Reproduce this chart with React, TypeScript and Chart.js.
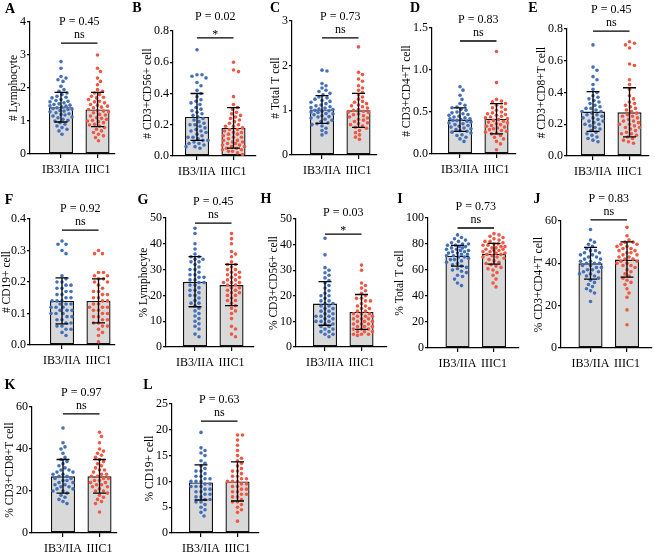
import React, { useEffect, useRef } from "react";
import { Chart, registerables } from "chart.js";
Chart.register(...registerables);

const groups = ["IB3/IIA", "IIIC1"];

// ---- Panel A: # Lymphocyte
const aIB = [2.8, 2.6, 2.35, 2.3, 2.25, 2.2, 2.05, 1.95, 1.9, 1.85, 1.8, 1.75, 1.72, 1.7, 1.65, 1.62, 1.6, 1.58, 1.55, 1.52, 1.5, 1.48, 1.46, 1.45, 1.42, 1.4, 1.38, 1.36, 1.35, 1.32, 1.3, 1.28, 1.25, 1.22, 1.2, 1.18, 1.15, 1.12, 1.1, 1.05, 1.02, 1.0, 0.95, 0.9, 0.85, 0.8, 0.75, 0.7, 0.6];
const aIII = [3.0, 2.6, 2.5, 2.3, 2.2, 2.1, 1.95, 1.9, 1.85, 1.8, 1.75, 1.72, 1.7, 1.65, 1.6, 1.58, 1.55, 1.5, 1.48, 1.45, 1.42, 1.4, 1.35, 1.32, 1.3, 1.28, 1.25, 1.2, 1.18, 1.15, 1.1, 1.08, 1.05, 1.02, 1.0, 0.98, 0.95, 0.9, 0.88, 0.85, 0.8, 0.75, 0.7, 0.65, 0.6, 0.55, 0.5, 0.4];
const aMean = [1.42, 1.35];
const aSd = [0.45, 0.52];

// ---- Panel B: # CD3+CD56+ cell
const bIB = [0.68, 0.52, 0.52, 0.51, 0.5, 0.47, 0.45, 0.42, 0.4, 0.38, 0.36, 0.35, 0.34, 0.33, 0.31, 0.3, 0.29, 0.28, 0.27, 0.26, 0.25, 0.24, 0.23, 0.22, 0.21, 0.2, 0.2, 0.19, 0.18, 0.17, 0.16, 0.16, 0.15, 0.14, 0.13, 0.12, 0.12, 0.11, 0.1, 0.1, 0.09, 0.08, 0.08, 0.07, 0.06, 0.06, 0.05];
const bIII = [0.6, 0.55, 0.54, 0.38, 0.33, 0.31, 0.3, 0.28, 0.27, 0.26, 0.25, 0.24, 0.23, 0.22, 0.21, 0.2, 0.19, 0.19, 0.18, 0.17, 0.17, 0.16, 0.15, 0.15, 0.14, 0.14, 0.13, 0.12, 0.12, 0.11, 0.1, 0.1, 0.09, 0.09, 0.08, 0.08, 0.07, 0.07, 0.06, 0.06, 0.05, 0.05, 0.04, 0.04, 0.03, 0.03, 0.02, 0.01];
const bMean = [0.25, 0.18];
const bSd = [0.15, 0.13];

// ---- Panel C: # Total T cell
const cIB = [1.9, 1.88, 1.6, 1.55, 1.5, 1.45, 1.42, 1.38, 1.35, 1.3, 1.28, 1.25, 1.22, 1.2, 1.18, 1.15, 1.12, 1.1, 1.08, 1.06, 1.05, 1.03, 1.02, 1.0, 0.99, 0.98, 0.96, 0.95, 0.93, 0.92, 0.9, 0.88, 0.86, 0.85, 0.83, 0.8, 0.78, 0.75, 0.72, 0.7, 0.68, 0.65, 0.6, 0.55, 0.5, 0.45];
const cIII = [2.42, 1.85, 1.8, 1.7, 1.65, 1.55, 1.5, 1.45, 1.4, 1.35, 1.3, 1.25, 1.2, 1.18, 1.15, 1.12, 1.1, 1.08, 1.05, 1.02, 1.0, 0.98, 0.96, 0.95, 0.92, 0.9, 0.88, 0.85, 0.83, 0.8, 0.78, 0.75, 0.72, 0.7, 0.68, 0.65, 0.62, 0.6, 0.55, 0.5, 0.45, 0.4, 0.35];
const cMean = [1.02, 1.0];
const cSd = [0.31, 0.38];

// ---- Panel D: # CD3+CD4+T cell
const dIB = [0.8, 0.76, 0.7, 0.65, 0.6, 0.58, 0.56, 0.55, 0.53, 0.52, 0.5, 0.49, 0.48, 0.47, 0.46, 0.45, 0.44, 0.43, 0.42, 0.42, 0.41, 0.4, 0.4, 0.39, 0.38, 0.37, 0.36, 0.35, 0.34, 0.33, 0.32, 0.31, 0.3, 0.29, 0.28, 0.27, 0.26, 0.25, 0.23, 0.22, 0.2, 0.18, 0.15];
const dIII = [1.22, 0.85, 0.65, 0.63, 0.62, 0.6, 0.58, 0.56, 0.55, 0.53, 0.52, 0.5, 0.49, 0.48, 0.47, 0.46, 0.45, 0.44, 0.43, 0.42, 0.41, 0.4, 0.39, 0.38, 0.37, 0.36, 0.35, 0.34, 0.33, 0.32, 0.31, 0.3, 0.29, 0.28, 0.27, 0.26, 0.25, 0.24, 0.22, 0.2, 0.18, 0.15, 0.12, 0.05];
const dMean = [0.41, 0.42];
const dSd = [0.14, 0.18];

// ---- Panel E: # CD3+CD8+T cell
const eIB = [0.7, 0.56, 0.54, 0.5, 0.48, 0.45, 0.42, 0.4, 0.38, 0.37, 0.36, 0.35, 0.34, 0.33, 0.32, 0.31, 0.3, 0.3, 0.29, 0.28, 0.28, 0.27, 0.26, 0.26, 0.25, 0.24, 0.24, 0.23, 0.22, 0.22, 0.21, 0.2, 0.2, 0.19, 0.18, 0.17, 0.16, 0.15, 0.14, 0.13, 0.12, 0.11, 0.1, 0.09];
const eIII = [0.72, 0.71, 0.7, 0.68, 0.58, 0.57, 0.48, 0.45, 0.42, 0.38, 0.36, 0.34, 0.33, 0.32, 0.31, 0.3, 0.29, 0.28, 0.27, 0.26, 0.25, 0.25, 0.24, 0.23, 0.22, 0.22, 0.21, 0.2, 0.2, 0.19, 0.18, 0.18, 0.17, 0.16, 0.15, 0.14, 0.14, 0.13, 0.12, 0.11, 0.1, 0.09, 0.08];
const eMean = [0.28, 0.275];
const eSd = [0.125, 0.155];

// ---- Panel F: # CD19+ cell
const fIB = [0.33, 0.32, 0.32, 0.3, 0.29, 0.22, 0.21, 0.2, 0.2, 0.19, 0.19, 0.18, 0.18, 0.17, 0.17, 0.16, 0.16, 0.15, 0.15, 0.14, 0.14, 0.14, 0.13, 0.13, 0.13, 0.12, 0.12, 0.12, 0.11, 0.11, 0.11, 0.1, 0.1, 0.1, 0.09, 0.09, 0.08, 0.08, 0.07, 0.07, 0.06, 0.06, 0.05, 0.05, 0.04, 0.03];
const fIII = [0.3, 0.29, 0.29, 0.23, 0.23, 0.22, 0.22, 0.21, 0.21, 0.2, 0.2, 0.19, 0.18, 0.17, 0.17, 0.16, 0.16, 0.15, 0.15, 0.14, 0.14, 0.13, 0.13, 0.12, 0.12, 0.12, 0.11, 0.11, 0.1, 0.1, 0.09, 0.09, 0.08, 0.08, 0.07, 0.07, 0.06, 0.06, 0.05, 0.04, 0.03, 0.01];
const fMean = [0.14, 0.14];
const fSd = [0.073, 0.07];

// ---- Panel G: % Lymphocyte
const gIB = [46, 44, 40, 38, 36, 35, 35, 34, 34, 33, 33, 32, 31, 30, 30, 29, 28, 28, 27, 27, 26, 26, 25, 25, 24, 24, 23, 22, 22, 21, 20, 20, 19, 18, 17, 17, 16, 15, 14, 13, 12, 11, 10, 9, 8, 7, 5, 4];
const gIII = [44, 42, 40, 37, 36, 35, 33, 32, 32, 31, 30, 30, 29, 29, 28, 28, 27, 27, 26, 26, 25, 25, 25, 24, 24, 23, 23, 22, 22, 21, 21, 20, 20, 19, 18, 18, 17, 16, 15, 14, 13, 11, 8, 7, 5, 4];
const gMean = [25.3, 24.0];
const gSd = [9.7, 8.0];

// ---- Panel H: % CD3+CD56+ cell
const hIB = [42.5, 36, 31, 30, 29, 28, 27, 26, 25, 24, 23, 22, 21, 20, 20, 19, 18, 18, 17, 17, 16, 16, 15, 15, 14, 14, 13, 13, 12, 12, 12, 11, 11, 10, 10, 10, 9, 9, 8, 8, 7, 7, 6, 6, 5, 5, 4];
const hIII = [32, 30, 25, 24, 23, 22, 21, 20, 19, 19, 18, 18, 17, 16, 16, 15, 15, 14, 14, 13, 13, 13, 12, 12, 12, 11, 11, 11, 10, 10, 10, 9, 9, 9, 8, 8, 8, 7, 7, 7, 6, 6, 6, 5, 5, 5, 4.5];
const hMean = [17.0, 13.7];
const hSd = [8.5, 6.8];

// ---- Panel I: % Total T cell
const iIB = [87, 85, 84, 83, 82, 81, 80, 80, 79, 79, 78, 78, 77, 77, 76, 76, 75, 75, 74, 74, 73, 73, 72, 72, 71, 71, 70, 70, 69, 68, 68, 67, 66, 65, 64, 63, 62, 61, 60, 59, 58, 56, 55, 53, 50, 48];
const iIII = [88, 87, 86, 85, 84, 83, 82, 82, 81, 80, 80, 79, 79, 78, 78, 77, 77, 76, 76, 75, 75, 74, 74, 73, 73, 72, 72, 71, 70, 70, 69, 68, 67, 66, 65, 64, 63, 62, 61, 60, 58, 56, 53, 50, 47];
const iMean = [71, 72.5];
const iSd = [8, 8];

// ---- Panel J: % CD3+CD4+T cell
const jIB = [56, 51, 50, 49, 48, 47, 46, 46, 45, 45, 44, 44, 43, 43, 42, 42, 41, 41, 40, 40, 40, 39, 39, 38, 38, 37, 37, 36, 36, 35, 35, 34, 34, 33, 32, 31, 30, 29, 28, 27, 26, 22];
const jIII = [57, 53, 51, 50, 50, 49, 49, 48, 48, 47, 47, 46, 46, 45, 45, 44, 44, 43, 43, 42, 42, 41, 41, 40, 40, 39, 39, 38, 37, 36, 35, 34, 33, 32, 31, 30, 28, 26, 24, 18, 11];
const jMean = [40, 41.8];
const jSd = [7.5, 8.3];

// ---- Panel K: % CD3+CD8+T cell
const kIB = [50, 43, 41, 40, 38, 36, 35, 34, 33, 32, 31, 30, 30, 29, 29, 28, 28, 27, 27, 26, 26, 25, 25, 24, 24, 23, 23, 22, 22, 21, 21, 20, 20, 19, 18, 17, 16, 15, 14];
const kIII = [48, 46, 43, 40, 39, 38, 37, 36, 35, 34, 33, 32, 31, 30, 30, 29, 28, 28, 27, 27, 26, 26, 25, 25, 24, 24, 23, 23, 22, 22, 21, 20, 20, 19, 18, 17, 16, 15, 14, 10];
const kMean = [27, 27];
const kSd = [8, 8];

// ---- Panel L: % CD19+ cell
const lIB = [19.5, 16.5, 16, 15.5, 15, 14, 13.5, 13, 12.5, 12, 12, 11.5, 11, 11, 10.5, 10.5, 10, 10, 10, 9.5, 9.5, 9, 9, 9, 8.5, 8.5, 8, 8, 7.5, 7.5, 7, 7, 6.5, 6.5, 6, 6, 5.5, 5, 4.5, 4, 3.3];
const lIII = [19, 19, 18, 17, 16, 15, 14.5, 14, 13.5, 13, 12.5, 12, 12, 11.5, 11, 11, 10.5, 10.5, 10, 10, 10, 9.5, 9.5, 9, 9, 8.5, 8.5, 8, 8, 7.5, 7.5, 7, 7, 6.5, 6, 6, 5.5, 5, 4.5, 4, 2.3];
const lMean = [9.8, 10.0];
const lSd = [3.4, 3.8];

const pValues = ["0.45", "0.02", "0.73", "0.83", "0.45", "0.92", "0.45", "0.03", "0.73", "0.83", "0.97", "0.63"];
const sigMarks = ["ns", "*", "ns", "ns", "ns", "ns", "ns", "*", "ns", "ns", "ns", "ns"];

type Spec = {
  letter: string; title: string; ib: number[]; iii: number[]; mean: number[]; sd: number[];
  ymax: number; step: number; dec: number; sigY: number;
  axisX: number; yTop: number; yBot: number; o1: number; W: number; lx: number; ly: number;
};

const specs: Spec[] = [
  { letter: "A", title: "# Lymphocyte", ib: aIB, iii: aIII, mean: aMean, sd: aSd, ymax: 4, step: 1, dec: 0, sigY: 3.36, axisX: 30, yTop: 22, yBot: 154, o1: 31, W: 85, lx: 10, ly: 9 },
  { letter: "B", title: "# CD3+CD56+ cell", ib: bIB, iii: bIII, mean: bMean, sd: bSd, ymax: 0.8, step: 0.2, dec: 1, sigY: 0.756, axisX: 173, yTop: 31, yBot: 156, o1: 24, W: 83, lx: 137, ly: 8 },
  { letter: "C", title: "# Total T cell", ib: cIB, iii: cIII, mean: cMean, sd: cSd, ymax: 3, step: 1, dec: 0, sigY: 2.62, axisX: 292, yTop: 21, yBot: 155, o1: 30, W: 85, lx: 275, ly: 8 },
  { letter: "D", title: "# CD3+CD4+T cell", ib: dIB, iii: dIII, mean: dMean, sd: dSd, ymax: 1.5, step: 0.5, dec: 1, sigY: 1.345, axisX: 432, yTop: 28, yBot: 154, o1: 28, W: 84, lx: 415, ly: 8 },
  { letter: "E", title: "# CD3+CD8+T cell", ib: eIB, iii: eIII, mean: eMean, sd: eSd, ymax: 0.8, step: 0.2, dec: 1, sigY: 0.787, axisX: 567, yTop: 29, yBot: 156, o1: 26, W: 82, lx: 533, ly: 8 },
  { letter: "F", title: "# CD19+ cell", ib: fIB, iii: fIII, mean: fMean, sd: fSd, ymax: 0.4, step: 0.1, dec: 1, sigY: 0.365, axisX: 30, yTop: 219, yBot: 345, o1: 32, W: 85, lx: 9, ly: 200 },
  { letter: "G", title: "% Lymphocyte", ib: gIB, iii: gIII, mean: gMean, sd: gSd, ymax: 50, step: 10, dec: 0, sigY: 48, axisX: 166, yTop: 218, yBot: 347, o1: 29, W: 88, lx: 143, ly: 200 },
  { letter: "H", title: "% CD3+CD56+ cell", ib: hIB, iii: hIII, mean: hMean, sd: hSd, ymax: 50, step: 10, dec: 0, sigY: 44.1, axisX: 296, yTop: 219, yBot: 347, o1: 29, W: 91, lx: 266, ly: 199 },
  { letter: "I", title: "% Total T cell", ib: iIB, iii: iIII, mean: iMean, sd: iSd, ymax: 100, step: 20, dec: 0, sigY: 92.3, axisX: 428, yTop: 218, yBot: 348, o1: 29.5, W: 91, lx: 400, ly: 199 },
  { letter: "J", title: "% CD3+CD4+T cell", ib: jIB, iii: jIII, mean: jMean, sd: jSd, ymax: 60, step: 20, dec: 0, sigY: 60.5, axisX: 561, yTop: 221, yBot: 348, o1: 29.5, W: 91, lx: 537, ly: 199 },
  { letter: "K", title: "% CD3+CD8+T cell", ib: kIB, iii: kIII, mean: kMean, sd: kSd, ymax: 60, step: 20, dec: 0, sigY: 56.7, axisX: 32, yTop: 407, yBot: 533, o1: 31, W: 85, lx: 10, ly: 385 },
  { letter: "L", title: "% CD19+ cell", ib: lIB, iii: lIII, mean: lMean, sd: lSd, ymax: 25, step: 5, dec: 0, sigY: 21.7, axisX: 172, yTop: 404, yBot: 533, o1: 29, W: 87, lx: 148, ly: 385 },
];

const FAMILY = '"Liberation Serif", "Times New Roman", serif';
const BLUE = "#4470b8";
const RED = "#ef5843";
const UNIT = 36.5; // px between the two groups
const YW = 52;
const PT = 34;
const XH = 30;
const PR = 4;
const TICK_FONT = 12;
const TITLE_FONT = 11.5;
const TICK_LEN = 3;
const TICK_PAD = 1;

function swarm(values: number[], pxPerY: number, sep: number, maxHalf: number): number[] {
  const order = values.map((_, i) => i).sort((a, b) => values[b] - values[a]);
  const placed: { x: number; y: number }[] = [];
  const res = new Array(values.length).fill(0);
  for (const i of order) {
    const yp = values[i] * pxPerY;
    let best = 0;
    let bestScore = -1;
    for (let k = 0; k <= 2 * maxHalf; k++) {
      const off = (k % 2 === 1 ? 1 : -1) * Math.ceil(k / 2);
      let minD = Infinity;
      for (const p of placed) {
        const dd = Math.hypot(p.x - off, p.y - yp);
        if (dd < minD) minD = dd;
      }
      if (minD >= sep) { best = off; bestScore = Infinity; break; }
      if (minD > bestScore) { bestScore = minD; best = off; }
    }
    placed.push({ x: best, y: yp });
    res[i] = best / UNIT;
  }
  return res;
}

function measure(text: string, size: number): number {
  const c = document.createElement("canvas").getContext("2d");
  if (!c) return text.length * size * 0.5;
  c.font = `${size}px ${FAMILY}`;
  return c.measureText(text).width;
}

function Panel({ s, idx }: { s: Spec; idx: number }) {
  const ref = useRef<HTMLCanvasElement | null>(null);
  const plotH = s.yBot - s.yTop;
  const cw = YW + s.W + PR;
  const ch = PT + plotH + XH;
  useEffect(() => {
    if (!ref.current) return;
    const pxPerY = plotH / s.ymax;
    const r = 1.8;
    const jitIB = swarm(s.ib, pxPerY, 4.4, 11);
    const jitIII = swarm(s.iii, pxPerY, 4.4, 11);
    const labels: string[] = [];
    for (let v = 0; v <= s.ymax + 1e-9; v += s.step) labels.push(v.toFixed(s.dec));
    const labelW = Math.max(...labels.map((t) => measure(t, TICK_FONT)));
    const lh = TITLE_FONT * 1.2;
    // distance from the y axis line to the centre of the rotated title
    const titleDist = Math.min(TICK_LEN + TICK_PAD + labelW + 6.5, s.axisX - 7);
    const titlePad = Math.max(0, YW - lh / 2 - titleDist);
    const xmin = -s.o1 / UNIT;
    const xmax = (s.W - s.o1) / UNIT;
    const p = pValues[idx];
    const mark = sigMarks[idx];
    const annot = {
      id: "annot",
      afterDatasetsDraw(chart: any) {
        const { ctx } = chart;
        const x = chart.scales.x;
        const y = chart.scales.y;
        ctx.save();
        ctx.strokeStyle = "#000";
        ctx.lineWidth = 1.3;
        for (let i = 0; i < 2; i++) {
          const px = x.getPixelForValue(i);
          const top = y.getPixelForValue(s.mean[i] + s.sd[i]);
          const bot = y.getPixelForValue(s.mean[i] - s.sd[i]);
          ctx.beginPath();
          ctx.moveTo(px, top); ctx.lineTo(px, bot);
          ctx.moveTo(px - 6.5, top); ctx.lineTo(px + 6.5, top);
          ctx.moveTo(px - 6.5, bot); ctx.lineTo(px + 6.5, bot);
          ctx.stroke();
        }
        const x0 = x.getPixelForValue(0);
        const x1 = x.getPixelForValue(1);
        const ly = y.getPixelForValue(s.sigY);
        ctx.beginPath();
        ctx.moveTo(x0, ly); ctx.lineTo(x1, ly);
        ctx.stroke();
        ctx.fillStyle = "#000";
        ctx.textAlign = "center";
        ctx.textBaseline = "middle";
        ctx.font = `12px ${FAMILY}`;
        ctx.fillText(mark, (x0 + x1) / 2, ly - (mark === "*" ? 3 : 8));
        ctx.fillText("P = " + p, (x0 + x1) / 2, ly - 21);
        ctx.restore();
      },
    };
    const chart = new Chart(ref.current, {
      type: "bar",
      data: {
        datasets: [
          {
            type: "scatter",
            data: s.ib.map((v, i) => ({ x: 0 + jitIB[i], y: v })),
            backgroundColor: BLUE,
            pointRadius: r,
            pointBorderWidth: 0,
            borderWidth: 0,
            order: 1,
          } as any,
          {
            type: "scatter",
            data: s.iii.map((v, i) => ({ x: 1 + jitIII[i], y: v })),
            backgroundColor: RED,
            pointRadius: r,
            pointBorderWidth: 0,
            borderWidth: 0,
            order: 1,
          } as any,
          {
            type: "bar",
            data: s.mean.map((m, i) => ({ x: i, y: m })),
            backgroundColor: "#d9d9d9",
            borderColor: "#111",
            borderWidth: 1.4,
            borderSkipped: false,
            categoryPercentage: 1,
            barPercentage: 0.66,
            order: 10,
          } as any,
        ],
      },
      options: {
        animation: false,
        responsive: false,
        events: [],
        layout: { padding: { top: PT, right: PR, left: 0, bottom: 0 } },
        plugins: { legend: { display: false }, tooltip: { enabled: false } },
        scales: {
          x: {
            type: "linear",
            min: xmin,
            max: xmax,
            offset: false,
            afterBuildTicks: (sc: any) => { sc.ticks = [{ value: 0 }, { value: 1 }]; },
            afterFit: (sc: any) => { sc.height = XH; },
            ticks: {
              autoSkip: false,
              maxRotation: 0,
              padding: 5,
              color: "#000",
              font: { family: FAMILY, size: TICK_FONT },
              callback: (v: any) => groups[Math.round(Number(v))],
            },
            grid: { display: true, drawOnChartArea: false, drawTicks: true, tickLength: 4, color: "#000", lineWidth: 1.2, offset: false },
            border: { display: true, color: "#000", width: 1.2 },
          },
          y: {
            type: "linear",
            min: 0,
            max: s.ymax,
            afterFit: (sc: any) => { sc.width = YW; },
            ticks: {
              stepSize: s.step,
              padding: TICK_PAD,
              color: "#000",
              font: { family: FAMILY, size: TICK_FONT },
              callback: (v: any) => Number(v).toFixed(s.dec),
            },
            grid: { display: true, drawOnChartArea: false, drawTicks: true, tickLength: TICK_LEN, color: "#000", lineWidth: 1.2 },
            border: { display: true, color: "#000", width: 1.2 },
            title: {
              display: true,
              text: s.title,
              color: "#000",
              font: { family: FAMILY, size: TITLE_FONT },
              padding: { top: titlePad, bottom: 0 },
            },
          },
        },
      } as any,
      plugins: [annot],
    });
    return () => chart.destroy();
  }, []);
  return (
    <>
      <canvas
        ref={ref}
        width={cw}
        height={ch}
        style={{ position: "absolute", left: s.axisX - YW, top: s.yTop - PT, width: cw, height: ch }}
      />
      <div
        style={{
          position: "absolute",
          left: s.lx,
          top: s.ly,
          transform: "translate(-50%, -50%)",
          font: `bold 14px ${FAMILY}`,
          lineHeight: 1,
          color: "#000",
        }}
      >
        {s.letter}
      </div>
    </>
  );
}

export default function App() {
  return (
    <div style={{ position: "absolute", left: 0, top: 0, width: 654, height: 555, overflow: "hidden", background: "#fff" }}>
      {specs.map((s, i) => (
        <Panel key={s.letter} s={s} idx={i} />
      ))}
    </div>
  );
}
